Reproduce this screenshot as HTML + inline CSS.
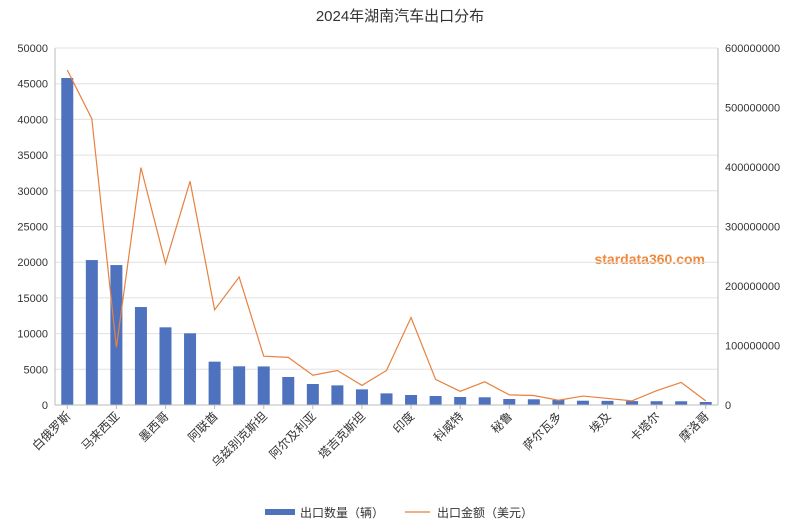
<!DOCTYPE html>
<html><head><meta charset="utf-8"><style>
body{margin:0;background:#fff;}
svg{display:block;font-family:"Liberation Sans","Noto Sans CJK SC",sans-serif;}
</style></head><body>
<svg id="chart" width="797" height="529">
<text x="400" y="21" text-anchor="middle" font-size="15" fill="#333">2024年湖南汽车出口分布</text>
<text x="705" y="264" text-anchor="end" font-size="14" fill="#f0883a" font-weight="bold">stardata360.com</text>
<g id="grid"></g><g id="bars"></g><g id="line"></g><g id="axes"></g>
<g>
<rect x="265" y="509" width="30" height="6" fill="#4e72be"/>
<text x="300" y="517" font-size="12" fill="#333">出口数量（辆）</text>
<line x1="405" y1="512" x2="430" y2="512" stroke="#e8813f" stroke-width="1.2"/>
<text x="437" y="517" font-size="12" fill="#333">出口金额（美元）</text>
</g>
</svg>
<script>
const categories=["白俄罗斯","俄罗斯","马来西亚","沙特","墨西哥","智利","阿联酋","哈萨克斯坦","乌兹别克斯坦","伊拉克","阿尔及利亚","吉尔吉斯斯坦","塔吉克斯坦","菲律宾","印度","越南","科威特","巴西","秘鲁","约旦","萨尔瓦多","厄瓜多尔","埃及","泰国","卡塔尔","阿曼","摩洛哥"];
const quantities=[45800,20300,19600,13720,10880,10040,6070,5420,5400,3920,2940,2750,2190,1630,1400,1260,1120,1080,840,800,700,600,580,550,530,520,420];
const amounts=[563e6,481e6,97e6,399e6,238e6,376e6,160e6,215e6,82e6,80e6,50e6,58e6,33e6,58e6,147e6,43e6,23e6,39e6,17e6,16e6,8e6,15e6,11e6,7e6,24e6,38e6,7e6];
const leftTicks=[0,5000,10000,15000,20000,25000,30000,35000,40000,45000,50000];
const rightTicks=[0,100000000,200000000,300000000,400000000,500000000,600000000];
const NS="http://www.w3.org/2000/svg";
const L=55,R=718,T=48,B=405,step=(R-L)/categories.length;
const x=i=>L+step*(i+0.5);
const yL=v=>B-(v/50000)*(B-T);
const yR=v=>B-(v/600000000)*(B-T);
function mk(tag,attrs,parent){const e=document.createElementNS(NS,tag);for(const k in attrs)e.setAttribute(k,attrs[k]);parent.appendChild(e);return e;}
const grid=document.getElementById('grid'),bars=document.getElementById('bars'),line=document.getElementById('line'),axes=document.getElementById('axes');
leftTicks.forEach(t=>{
 const g=mk('line',{x1:L,x2:R,y1:yL(t),y2:yL(t),stroke:'#e0e0e0','stroke-width':1},grid);
 
 
 const tx=mk('text',{x:L-7,y:yL(t)+4,'text-anchor':'end','font-size':11,fill:'#333'},axes);
 tx.textContent=t;
 
 
});
rightTicks.forEach(t=>{
 const tx=mk('text',{x:R+7,y:yR(t)+4,'font-size':11,fill:'#333'},axes);
 tx.textContent=t;
 
 
});
quantities.forEach((v,i)=>{
 const b=mk('rect',{x:x(i)-6,y:yL(v),width:12,height:B-yL(v),fill:'#4e72be'},bars);
 
 
});
const pl=mk('polyline',{points:amounts.map((v,i)=>x(i)+','+yR(v)).join(' '),fill:'none',stroke:'#e8813f','stroke-width':1.2},line);


const ax=mk('line',{x1:L,x2:R,y1:B,y2:B,stroke:'#bbb'},axes);


const al=mk('line',{x1:L,x2:L,y1:T,y2:B,stroke:'#bbb'},axes);


const ar=mk('line',{x1:R,x2:R,y1:T,y2:B,stroke:'#bbb'},axes);


categories.forEach((c,i)=>{
 if(i%2) return;
 const tk=mk('line',{x1:x(i),x2:x(i),y1:B,y2:B+4,stroke:'#bbb'},axes);
 
 
 const tx=mk('text',{x:x(i)+4,y:B+12,'text-anchor':'end','font-size':12,fill:'#333',transform:`rotate(-45 ${x(i)+4} ${B+12})`},axes);
 tx.textContent=c;
 
 
});
</script>
</body></html>
